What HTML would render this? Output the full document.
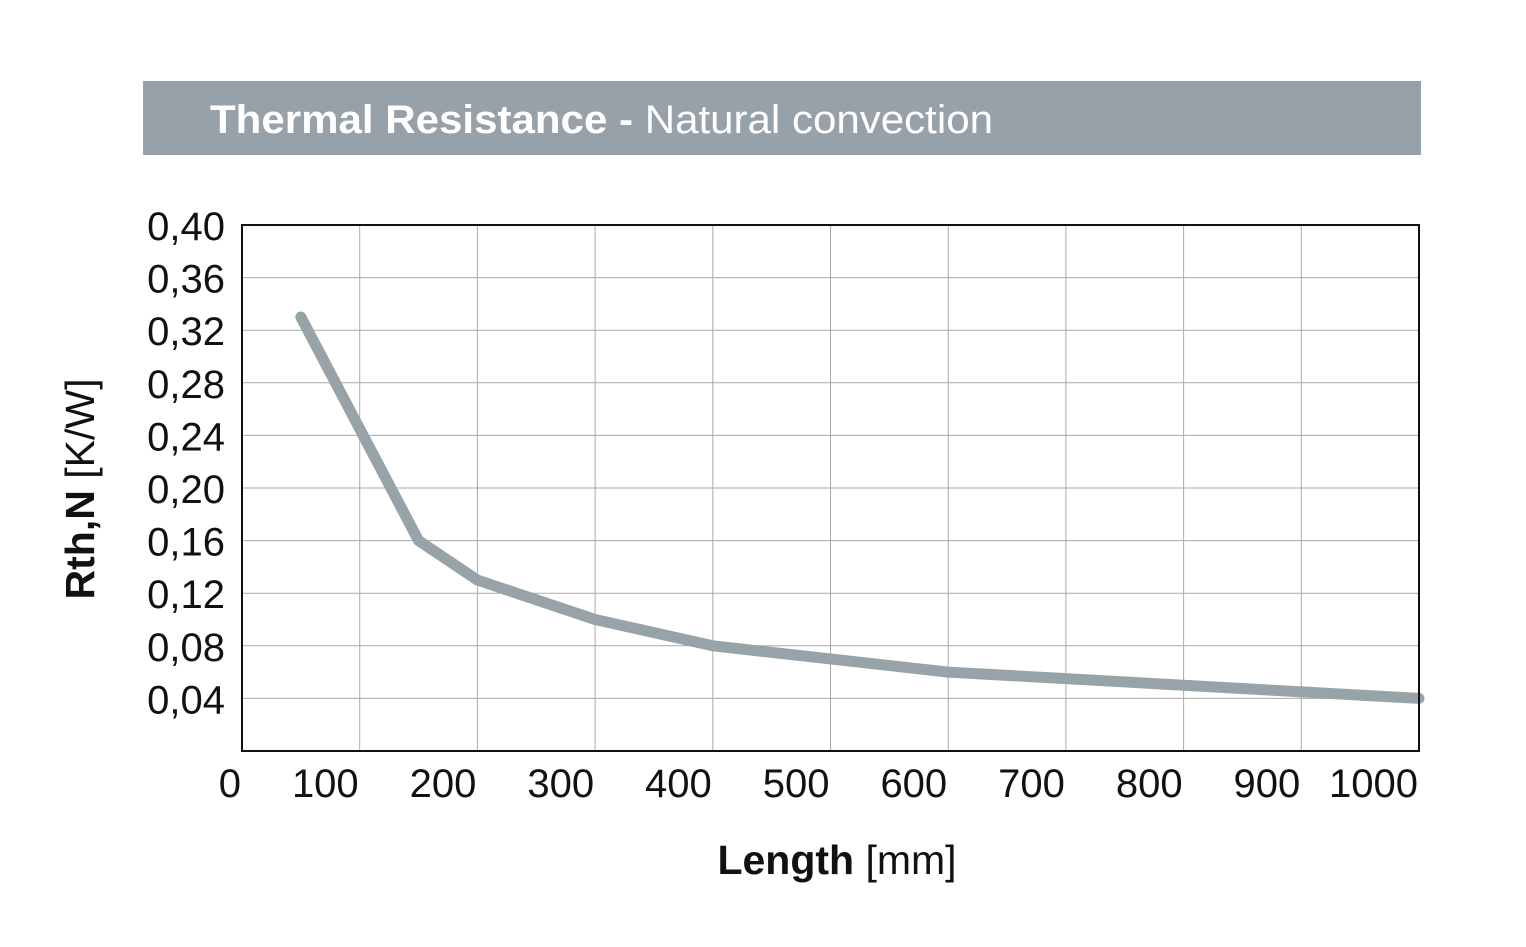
<!DOCTYPE html>
<html><head><meta charset="utf-8"><style>
html,body{margin:0;padding:0;background:#fff;}
svg{display:block;font-family:"Liberation Sans",Arial,sans-serif;}
</style></head><body>
<svg id="chart" width="1526" height="947" viewBox="0 0 1526 947">
<rect x="143" y="81" width="1278" height="74" fill="#97a1a9"/>
<text x="210" y="133" font-size="40" fill="#fff" textLength="783" lengthAdjust="spacingAndGlyphs"><tspan font-weight="bold">Thermal Resistance - </tspan><tspan>Natural convection</tspan></text>
<g id="grid"></g>
<g id="series"></g>
<rect x="242" y="225" width="1177" height="526" fill="none" stroke="#111" stroke-width="2"/>
<g id="ylabels"></g>
<g id="xlabels"></g>
<text transform="translate(94,489) rotate(-90)" text-anchor="middle" font-size="41" fill="#111"><tspan font-weight="bold">Rth,N</tspan> [K/W]</text>
<text x="837" y="874" text-anchor="middle" font-size="41" fill="#111"><tspan font-weight="bold">Length</tspan> [mm]</text>
</svg>
<script>
const xTicks=[0,100,200,300,400,500,600,700,800,900,1000];
const yTicks=[0.04,0.08,0.12,0.16,0.20,0.24,0.28,0.32,0.36,0.40];
const yTickLabels=["0,04","0,08","0,12","0,16","0,20","0,24","0,28","0,32","0,36","0,40"];
const lengths=[50,150,200,300,400,500,600,700,800,900,1000];
const resistance=[0.33,0.16,0.13,0.10,0.08,0.07,0.06,0.055,0.05,0.045,0.04];
const NS="http://www.w3.org/2000/svg";
const X0=242,X1=1419,Y0=751,Y1=225;
const sx=v=>X0+(v/1000)*(X1-X0);
const sy=v=>Y0-(v/0.40)*(Y0-Y1);
const grid=document.getElementById('grid'),yl=document.getElementById('ylabels'),xl=document.getElementById('xlabels'),ser=document.getElementById('series');
function mk(t,a){const e=document.createElementNS(NS,t);for(const k in a)e.setAttribute(k,a[k]);return e;}
xTicks.forEach(v=>{
  if(v>0&&v<1000){const l=mk('line',{x1:sx(v),x2:sx(v),y1:Y1,y2:Y0,stroke:'#aaa','stroke-width':1});
  
  
  grid.appendChild(l);}
  const t=mk('text',{x:sx(v)-1,y:797,'font-size':40,fill:'#111','text-anchor':'end'});
  t.textContent=v;
  
  
  xl.appendChild(t);
});
yTicks.forEach((v,i)=>{
  if(i<yTicks.length-1){const l=mk('line',{x1:X0,x2:X1,y1:sy(v),y2:sy(v),stroke:'#aaa','stroke-width':1});
  
  
  grid.appendChild(l);}
  const t=mk('text',{x:225,y:sy(v)+15,'font-size':40,fill:'#111','text-anchor':'end'});
  t.textContent=yTickLabels[i];
  
  
  yl.appendChild(t);
});
const pts=lengths.map((v,i)=>sx(v)+','+sy(resistance[i])).join(' ');
const pl=mk('polyline',{points:pts,fill:'none',stroke:'#97a2a9','stroke-width':11,'stroke-linecap':'round','stroke-linejoin':'round'});


ser.appendChild(pl);
</script>
</body></html>
